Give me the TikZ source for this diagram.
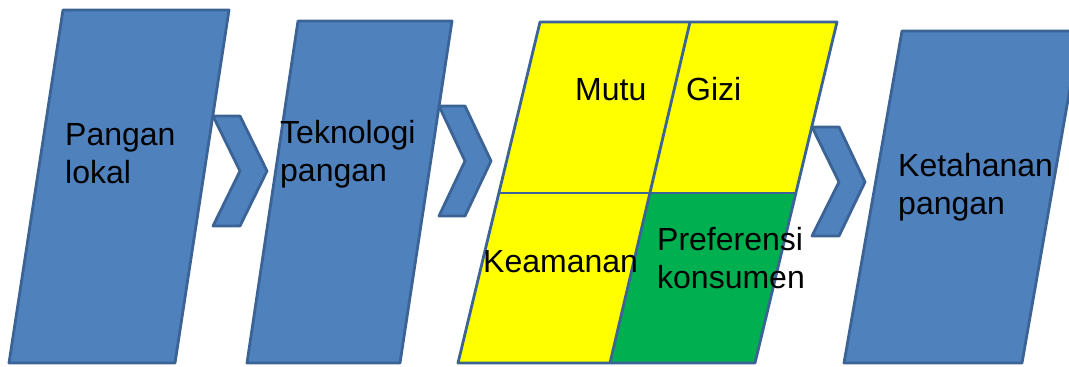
\documentclass[tikz,border=0pt]{standalone}
\usepackage{fontspec}
\setmainfont{Liberation Sans}
\definecolor{boxfill}{HTML}{4F81BD}
\definecolor{boxline}{HTML}{3B6396}
\definecolor{cellyellow}{HTML}{FFFF00}
\definecolor{cellgreen}{HTML}{00B050}
\begin{document}
\begin{tikzpicture}[x=1pt,y=-1pt,
  bluebox/.style={fill=boxfill,draw=boxline,line width=2.8pt,line join=round},
  chev/.style={fill=boxfill,draw=boxline,line width=2.8pt,line join=round},
  gridline/.style={draw=boxline,line width=2.8pt,line join=round},
  lbl/.style={anchor=base west,inner sep=0pt,align=left,font=\fontsize{32}{37.5}\selectfont}]
\useasboundingbox (0,0) rectangle (1069,367);
\clip (0,0) rectangle (1069,367);
% box 1
\draw[bluebox] (63,10) -- (229,10) -- (175,363) -- (9,363) -- cycle;
% chevron 1
\draw[chev] (213,116) -- (240,116) -- (267,171) -- (240,226) -- (213,226) -- (240,171) -- cycle;
% box 2
\draw[bluebox] (298,21) -- (452,21) -- (400,363) -- (247,363) -- cycle;
% chevron 2
\draw[chev] (439,106) -- (465,106) -- (491,161) -- (465,216) -- (439,216) -- (465,161) -- cycle;
% grid
\coordinate (gTL) at (540,22);
\coordinate (gTR) at (837,22);
\coordinate (gBR) at (755,363);
\coordinate (gBL) at (458,363);
\coordinate (gML) at (499,193);
\coordinate (gMR) at (796,193);
\coordinate (gDT) at (690,22);
\coordinate (gDB) at (610,363);
\coordinate (gC) at (650,193);
\fill[cellyellow] (gTL) -- (gTR) -- (gBR) -- (gBL) -- cycle;
\fill[cellgreen] (gC) -- (gMR) -- (gBR) -- (gDB) -- cycle;
\draw[gridline] (gTL) -- (gTR) -- (gBR) -- (gBL) -- cycle;
\draw[gridline] (gML) -- (gMR);
\draw[gridline] (gDT) -- (gDB);
% chevron 3
\draw[chev] (812,127) -- (839,127) -- (865,182) -- (839,236) -- (812,236) -- (839,182) -- cycle;
% box 4
\draw[bluebox] (902,31) -- (1080,31) -- (1022,363) -- (844,363) -- cycle;
% labels (base = baseline of the last line)
\node[lbl] (t1) at (65,183) {Pangan\\lokal};
\node[lbl] (t2) at (280,181) {Teknologi\\pangan};
\node[lbl] (t3) at (575,100) {Mutu};
\node[lbl] (t4) at (686,100) {Gizi};
\node[lbl] (t5) at (483,272) {Keamanan};
\node[lbl] (t6) at (657,288) {Preferensi\\konsumen};
\node[lbl] (t7) at (898,214) {Ketahanan\\pangan};
\end{tikzpicture}
\end{document}
